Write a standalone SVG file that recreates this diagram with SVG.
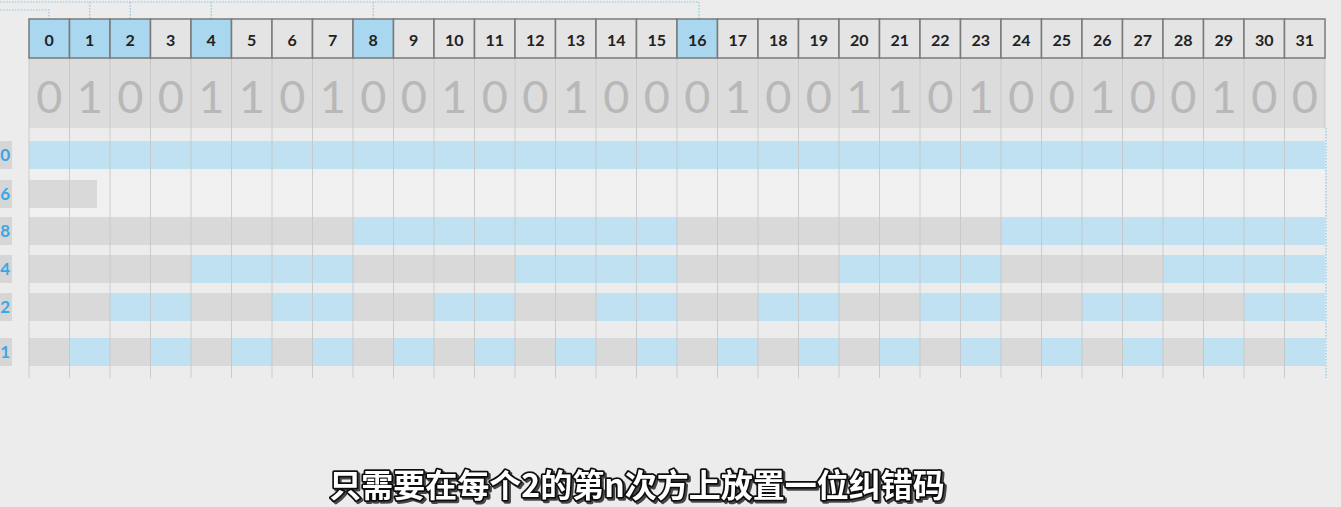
<svg xmlns="http://www.w3.org/2000/svg" width="1341" height="507" viewBox="0 0 1341 507">
<defs>
<style>
.bg{fill:#ececec}
.hc{fill:#e4e4e4;stroke:#7a7a7a;stroke-width:1.5}
.hb{fill:#a9d7ef;stroke:#7a7a7a;stroke-width:1.5}
.hn{font-family:"Lato","Noto Sans",sans-serif;font-size:16px;font-weight:bold;fill:#222;text-anchor:middle}
.bit{font-family:"Lato","Noto Sans",sans-serif;font-size:45px;fill:#b8b8b8;text-anchor:middle}
.gr{fill:#d9d9d9}
.bl{fill:#bfe1f1}
.lb{fill:#d6d6d6}
.lt{font-family:"Lato","Noto Sans",sans-serif;font-size:17px;font-weight:bold;fill:#3aa6e6;text-anchor:end}
.vl{stroke:#c4c4c4;stroke-width:1}
.dot{fill:none;stroke:#8cc6e6;stroke-width:1.2;stroke-dasharray:1.5 1.5}
.sub{font-family:"Noto Sans CJK SC",sans-serif;font-size:32px;font-weight:bold;fill:#fff;stroke:#111;stroke-width:3.5;paint-order:stroke;stroke-linejoin:round;text-anchor:middle}
</style>
<filter id="sh" x="-5%" y="-30%" width="110%" height="160%">
<feDropShadow dx="2" dy="2" stdDeviation="0.6" flood-color="#000" flood-opacity="0.7"/>
</filter>
</defs>
<rect class="bg" x="0" y="0" width="1341" height="507"/>

<g id="connectors">
<polyline class="dot" points="0,10 49,10 49,19"/>
<line class="dot" x1="0" y1="2" x2="699" y2="2"/>
<line class="dot" x1="89.75" y1="2" x2="89.75" y2="19"/>
<line class="dot" x1="130.25" y1="2" x2="130.25" y2="19"/>
<line class="dot" x1="211.25" y1="2" x2="211.25" y2="19"/>
<line class="dot" x1="373.25" y1="2" x2="373.25" y2="19"/>
<polyline class="dot" points="699,2 699,19"/>
<line class="dot" x1="1326" y1="128" x2="1326" y2="378"/>
</g>

<g id="bits-row">
<rect x="29" y="58" width="1296" height="70" fill="#dcdcdc"/>
</g>

<g id="parity-rows">
<rect class="bl" x="29" y="141" width="1296" height="28"/>
<rect x="29" y="169" width="1296" height="48" fill="#f0f0f0"/>
<rect class="gr" x="29" y="180" width="68" height="28"/>
<rect class="gr" x="29" y="217" width="1296" height="28"/>
<rect class="bl" x="353" y="217" width="324" height="28"/>
<rect class="bl" x="1001" y="217" width="324" height="28"/>
<rect class="gr" x="29" y="255" width="1296" height="28"/>
<rect class="bl" x="191" y="255" width="162" height="28"/>
<rect class="bl" x="515" y="255" width="162" height="28"/>
<rect class="bl" x="839" y="255" width="162" height="28"/>
<rect class="bl" x="1163" y="255" width="162" height="28"/>
<rect class="gr" x="29" y="293" width="1296" height="28"/>
<rect class="bl" x="110" y="293" width="81" height="28"/>
<rect class="bl" x="272" y="293" width="81" height="28"/>
<rect class="bl" x="434" y="293" width="81" height="28"/>
<rect class="bl" x="596" y="293" width="81" height="28"/>
<rect class="bl" x="758" y="293" width="81" height="28"/>
<rect class="bl" x="920" y="293" width="81" height="28"/>
<rect class="bl" x="1082" y="293" width="81" height="28"/>
<rect class="bl" x="1244" y="293" width="81" height="28"/>
<rect class="gr" x="29" y="338" width="1296" height="28"/>
<rect class="bl" x="69.5" y="338" width="40.5" height="28"/>
<rect class="bl" x="150.5" y="338" width="40.5" height="28"/>
<rect class="bl" x="231.5" y="338" width="40.5" height="28"/>
<rect class="bl" x="312.5" y="338" width="40.5" height="28"/>
<rect class="bl" x="393.5" y="338" width="40.5" height="28"/>
<rect class="bl" x="474.5" y="338" width="40.5" height="28"/>
<rect class="bl" x="555.5" y="338" width="40.5" height="28"/>
<rect class="bl" x="636.5" y="338" width="40.5" height="28"/>
<rect class="bl" x="717.5" y="338" width="40.5" height="28"/>
<rect class="bl" x="798.5" y="338" width="40.5" height="28"/>
<rect class="bl" x="879.5" y="338" width="40.5" height="28"/>
<rect class="bl" x="960.5" y="338" width="40.5" height="28"/>
<rect class="bl" x="1041.5" y="338" width="40.5" height="28"/>
<rect class="bl" x="1122.5" y="338" width="40.5" height="28"/>
<rect class="bl" x="1203.5" y="338" width="40.5" height="28"/>
<rect class="bl" x="1284.5" y="338" width="40.5" height="28"/>
</g>

<g id="grid" opacity="0.8">
<line class="vl" x1="29" y1="58" x2="29" y2="378"/>
<line class="vl" x1="69.5" y1="58" x2="69.5" y2="378"/>
<line class="vl" x1="110" y1="58" x2="110" y2="378"/>
<line class="vl" x1="150.5" y1="58" x2="150.5" y2="378"/>
<line class="vl" x1="191" y1="58" x2="191" y2="378"/>
<line class="vl" x1="231.5" y1="58" x2="231.5" y2="378"/>
<line class="vl" x1="272" y1="58" x2="272" y2="378"/>
<line class="vl" x1="312.5" y1="58" x2="312.5" y2="378"/>
<line class="vl" x1="353" y1="58" x2="353" y2="378"/>
<line class="vl" x1="393.5" y1="58" x2="393.5" y2="378"/>
<line class="vl" x1="434" y1="58" x2="434" y2="378"/>
<line class="vl" x1="474.5" y1="58" x2="474.5" y2="378"/>
<line class="vl" x1="515" y1="58" x2="515" y2="378"/>
<line class="vl" x1="555.5" y1="58" x2="555.5" y2="378"/>
<line class="vl" x1="596" y1="58" x2="596" y2="378"/>
<line class="vl" x1="636.5" y1="58" x2="636.5" y2="378"/>
<line class="vl" x1="677" y1="58" x2="677" y2="378"/>
<line class="vl" x1="717.5" y1="58" x2="717.5" y2="378"/>
<line class="vl" x1="758" y1="58" x2="758" y2="378"/>
<line class="vl" x1="798.5" y1="58" x2="798.5" y2="378"/>
<line class="vl" x1="839" y1="58" x2="839" y2="378"/>
<line class="vl" x1="879.5" y1="58" x2="879.5" y2="378"/>
<line class="vl" x1="920" y1="58" x2="920" y2="378"/>
<line class="vl" x1="960.5" y1="58" x2="960.5" y2="378"/>
<line class="vl" x1="1001" y1="58" x2="1001" y2="378"/>
<line class="vl" x1="1041.5" y1="58" x2="1041.5" y2="378"/>
<line class="vl" x1="1082" y1="58" x2="1082" y2="378"/>
<line class="vl" x1="1122.5" y1="58" x2="1122.5" y2="378"/>
<line class="vl" x1="1163" y1="58" x2="1163" y2="378"/>
<line class="vl" x1="1203.5" y1="58" x2="1203.5" y2="378"/>
<line class="vl" x1="1244" y1="58" x2="1244" y2="378"/>
<line class="vl" x1="1284.5" y1="58" x2="1284.5" y2="378"/>
<line class="vl" x1="1325" y1="58" x2="1325" y2="128"/>
</g>

<g id="bit-values">
<text class="bit" x="49.25" y="113">0</text>
<text class="bit" x="89.75" y="113">1</text>
<text class="bit" x="130.25" y="113">0</text>
<text class="bit" x="170.75" y="113">0</text>
<text class="bit" x="211.25" y="113">1</text>
<text class="bit" x="251.75" y="113">1</text>
<text class="bit" x="292.25" y="113">0</text>
<text class="bit" x="332.75" y="113">1</text>
<text class="bit" x="373.25" y="113">0</text>
<text class="bit" x="413.75" y="113">0</text>
<text class="bit" x="454.25" y="113">1</text>
<text class="bit" x="494.75" y="113">0</text>
<text class="bit" x="535.25" y="113">0</text>
<text class="bit" x="575.75" y="113">1</text>
<text class="bit" x="616.25" y="113">0</text>
<text class="bit" x="656.75" y="113">0</text>
<text class="bit" x="697.25" y="113">0</text>
<text class="bit" x="737.75" y="113">1</text>
<text class="bit" x="778.25" y="113">0</text>
<text class="bit" x="818.75" y="113">0</text>
<text class="bit" x="859.25" y="113">1</text>
<text class="bit" x="899.75" y="113">1</text>
<text class="bit" x="940.25" y="113">0</text>
<text class="bit" x="980.75" y="113">1</text>
<text class="bit" x="1021.25" y="113">0</text>
<text class="bit" x="1061.75" y="113">0</text>
<text class="bit" x="1102.25" y="113">1</text>
<text class="bit" x="1142.75" y="113">0</text>
<text class="bit" x="1183.25" y="113">0</text>
<text class="bit" x="1223.75" y="113">1</text>
<text class="bit" x="1264.25" y="113">0</text>
<text class="bit" x="1304.75" y="113">0</text>
</g>

<g id="header">
<rect class="hb" x="29" y="19" width="40.5" height="39"/>
<rect class="hb" x="69.5" y="19" width="40.5" height="39"/>
<rect class="hb" x="110" y="19" width="40.5" height="39"/>
<rect class="hc" x="150.5" y="19" width="40.5" height="39"/>
<rect class="hb" x="191" y="19" width="40.5" height="39"/>
<rect class="hc" x="231.5" y="19" width="40.5" height="39"/>
<rect class="hc" x="272" y="19" width="40.5" height="39"/>
<rect class="hc" x="312.5" y="19" width="40.5" height="39"/>
<rect class="hb" x="353" y="19" width="40.5" height="39"/>
<rect class="hc" x="393.5" y="19" width="40.5" height="39"/>
<rect class="hc" x="434" y="19" width="40.5" height="39"/>
<rect class="hc" x="474.5" y="19" width="40.5" height="39"/>
<rect class="hc" x="515" y="19" width="40.5" height="39"/>
<rect class="hc" x="555.5" y="19" width="40.5" height="39"/>
<rect class="hc" x="596" y="19" width="40.5" height="39"/>
<rect class="hc" x="636.5" y="19" width="40.5" height="39"/>
<rect class="hb" x="677" y="19" width="40.5" height="39"/>
<rect class="hc" x="717.5" y="19" width="40.5" height="39"/>
<rect class="hc" x="758" y="19" width="40.5" height="39"/>
<rect class="hc" x="798.5" y="19" width="40.5" height="39"/>
<rect class="hc" x="839" y="19" width="40.5" height="39"/>
<rect class="hc" x="879.5" y="19" width="40.5" height="39"/>
<rect class="hc" x="920" y="19" width="40.5" height="39"/>
<rect class="hc" x="960.5" y="19" width="40.5" height="39"/>
<rect class="hc" x="1001" y="19" width="40.5" height="39"/>
<rect class="hc" x="1041.5" y="19" width="40.5" height="39"/>
<rect class="hc" x="1082" y="19" width="40.5" height="39"/>
<rect class="hc" x="1122.5" y="19" width="40.5" height="39"/>
<rect class="hc" x="1163" y="19" width="40.5" height="39"/>
<rect class="hc" x="1203.5" y="19" width="40.5" height="39"/>
<rect class="hc" x="1244" y="19" width="40.5" height="39"/>
<rect class="hc" x="1284.5" y="19" width="40.5" height="39"/>
<text class="hn" x="49.25" y="46">0</text>
<text class="hn" x="89.75" y="46">1</text>
<text class="hn" x="130.25" y="46">2</text>
<text class="hn" x="170.75" y="46">3</text>
<text class="hn" x="211.25" y="46">4</text>
<text class="hn" x="251.75" y="46">5</text>
<text class="hn" x="292.25" y="46">6</text>
<text class="hn" x="332.75" y="46">7</text>
<text class="hn" x="373.25" y="46">8</text>
<text class="hn" x="413.75" y="46">9</text>
<text class="hn" x="454.25" y="46">10</text>
<text class="hn" x="494.75" y="46">11</text>
<text class="hn" x="535.25" y="46">12</text>
<text class="hn" x="575.75" y="46">13</text>
<text class="hn" x="616.25" y="46">14</text>
<text class="hn" x="656.75" y="46">15</text>
<text class="hn" x="697.25" y="46">16</text>
<text class="hn" x="737.75" y="46">17</text>
<text class="hn" x="778.25" y="46">18</text>
<text class="hn" x="818.75" y="46">19</text>
<text class="hn" x="859.25" y="46">20</text>
<text class="hn" x="899.75" y="46">21</text>
<text class="hn" x="940.25" y="46">22</text>
<text class="hn" x="980.75" y="46">23</text>
<text class="hn" x="1021.25" y="46">24</text>
<text class="hn" x="1061.75" y="46">25</text>
<text class="hn" x="1102.25" y="46">26</text>
<text class="hn" x="1142.75" y="46">27</text>
<text class="hn" x="1183.25" y="46">28</text>
<text class="hn" x="1223.75" y="46">29</text>
<text class="hn" x="1264.25" y="46">30</text>
<text class="hn" x="1304.75" y="46">31</text>
</g>

<g id="row-labels">
<rect class="lb" x="0" y="141" width="12" height="28"/>
<rect class="lb" x="0" y="180" width="12" height="28"/>
<rect class="lb" x="0" y="217" width="12" height="28"/>
<rect class="lb" x="0" y="255" width="12" height="28"/>
<rect class="lb" x="0" y="293" width="12" height="28"/>
<rect class="lb" x="0" y="338" width="12" height="28"/>
<text class="lt" x="10" y="161">0</text>
<text class="lt" x="10" y="200">16</text>
<text class="lt" x="10" y="237">8</text>
<text class="lt" x="10" y="275">4</text>
<text class="lt" x="10" y="313">2</text>
<text class="lt" x="10" y="358">1</text>
</g>

<g id="subtitle" filter="url(#sh)">
<text class="sub" x="637" y="497">只需要在每个2的第n次方上放置一位纠错码</text>
</g>
</svg>
